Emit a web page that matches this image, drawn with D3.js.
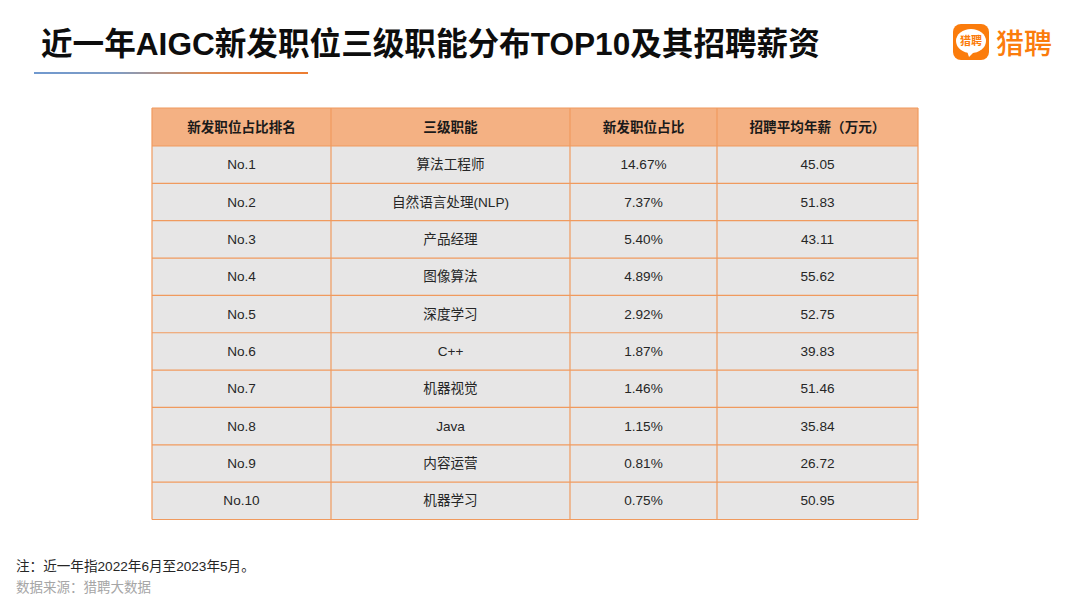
<!DOCTYPE html>
<html>
<head>
<meta charset="utf-8">
<script src="https://cdnjs.cloudflare.com/ajax/libs/d3/7.8.5/d3.min.js"></script>
<style>
  html, body { margin: 0; padding: 0; background: #fff; }
  svg { display: block; font-family: "Liberation Sans", "Noto Sans CJK SC", sans-serif; }
</style>
</head>
<body>
<div id="chart"></div>
<script>
const headers = ['新发职位占比排名', '三级职能', '新发职位占比', '招聘平均年薪（万元）'];
const ranks = ['No.1', 'No.2', 'No.3', 'No.4', 'No.5', 'No.6', 'No.7', 'No.8', 'No.9', 'No.10'];
const functions = ['算法工程师', '自然语言处理(NLP)', '产品经理', '图像算法', '深度学习', 'C++', '机器视觉', 'Java', '内容运营', '机器学习'];
const shares = ['14.67%', '7.37%', '5.40%', '4.89%', '2.92%', '1.87%', '1.46%', '1.15%', '0.81%', '0.75%'];
const salaries = ['45.05', '51.83', '43.11', '55.62', '52.75', '39.83', '51.46', '35.84', '26.72', '50.95'];

const width = 1080;
const height = 608;

const svg = d3.select('#chart')
  .append('svg')
  .attr('width', width)
  .attr('height', height);

// title
svg.append('text')
  .attr('x', 41)
  .attr('y', 55)
  .attr('font-size', 31.6)
  .attr('font-weight', 700)
  .attr('fill', '#0d0d0d')
  .text('近一年AIGC新发职位三级职能分布TOP10及其招聘薪资');

// gradient rule under the title
const grad = svg.append('defs').append('linearGradient').attr('id', 'rule');
grad.append('stop').attr('offset', '0%').attr('stop-color', '#7099cf');
grad.append('stop').attr('offset', '30%').attr('stop-color', '#7f9cc4');
grad.append('stop').attr('offset', '62%').attr('stop-color', '#e08a4e');
grad.append('stop').attr('offset', '100%').attr('stop-color', '#ed7d31');
svg.append('rect')
  .attr('x', 34)
  .attr('y', 72)
  .attr('width', 274)
  .attr('height', 2)
  .attr('fill', 'url(#rule)');

// logo
const logo = svg.append('g').attr('transform', 'translate(953,24)');
logo.append('rect')
  .attr('width', 36)
  .attr('height', 36)
  .attr('rx', 8)
  .attr('fill', '#fb7c0c');
logo.append('ellipse')
  .attr('cx', 18)
  .attr('cy', 17)
  .attr('rx', 15)
  .attr('ry', 12)
  .attr('fill', '#fff');
logo.append('path')
  .attr('d', 'M14 27 L21 28 L16 33 Z')
  .attr('fill', '#fff');
logo.append('text')
  .attr('x', 18)
  .attr('y', 21)
  .attr('text-anchor', 'middle')
  .attr('font-size', 11)
  .attr('font-weight', 700)
  .attr('fill', '#fb7c0c')
  .text('猎聘');
svg.append('text')
  .attr('x', 996)
  .attr('y', 54)
  .attr('font-size', 28)
  .attr('font-weight', 500)
  .attr('fill', '#fb7c0c')
  .text('猎聘');

// table
const colEdges = [152, 331, 570, 717, 918];
const tableTop = 108;
const tableBottom = 519.5;
const headerH = 38;

const y = d3.scaleBand()
  .domain(d3.range(ranks.length))
  .range([tableTop + headerH, tableBottom]);

const columns = [ranks, functions, shares, salaries];

svg.append('rect')
  .attr('x', colEdges[0])
  .attr('y', tableTop)
  .attr('width', colEdges[4] - colEdges[0])
  .attr('height', headerH)
  .attr('fill', '#f4b183');

svg.selectAll('.row')
  .data(ranks)
  .enter()
  .append('rect')
  .attr('class', 'row')
  .attr('x', colEdges[0])
  .attr('y', (d, i) => y(i))
  .attr('width', colEdges[4] - colEdges[0])
  .attr('height', y.bandwidth())
  .attr('fill', '#e7e6e6');

// grid lines
const lineColor = '#f09a5e';
svg.selectAll('.hline')
  .data([tableTop, tableTop + headerH].concat(ranks.map((d, i) => y(i) + y.bandwidth())))
  .enter()
  .append('line')
  .attr('class', 'hline')
  .attr('x1', colEdges[0])
  .attr('x2', colEdges[4])
  .attr('y1', d => d)
  .attr('y2', d => d)
  .attr('stroke', lineColor)
  .attr('stroke-width', 1.2);

svg.selectAll('.vline')
  .data(colEdges)
  .enter()
  .append('line')
  .attr('class', 'vline')
  .attr('x1', d => d)
  .attr('x2', d => d)
  .attr('y1', tableTop)
  .attr('y2', tableBottom)
  .attr('stroke', lineColor)
  .attr('stroke-width', 1.2);

// header text
svg.selectAll('.head')
  .data(headers)
  .enter()
  .append('text')
  .attr('class', 'head')
  .attr('x', (d, i) => (colEdges[i] + colEdges[i + 1]) / 2)
  .attr('y', tableTop + headerH / 2 + 5)
  .attr('text-anchor', 'middle')
  .attr('font-size', 13.6)
  .attr('font-weight', 700)
  .attr('fill', '#1a1a1a')
  .text(d => d);

// body text
columns.forEach((col, c) => {
  svg.selectAll('.cell' + c)
    .data(col)
    .enter()
    .append('text')
    .attr('class', 'cell' + c)
    .attr('x', (colEdges[c] + colEdges[c + 1]) / 2)
    .attr('y', (d, i) => y(i) + y.bandwidth() / 2 + 4.5)
    .attr('text-anchor', 'middle')
    .attr('font-size', 13.6)
    .attr('fill', '#262626')
    .text(d => d);
});

// footnotes
svg.append('text')
  .attr('x', 16)
  .attr('y', 571)
  .attr('font-size', 13.6)
  .attr('fill', '#262626')
  .text('注：近一年指2022年6月至2023年5月。');
svg.append('text')
  .attr('x', 16)
  .attr('y', 592)
  .attr('font-size', 13.5)
  .attr('fill', '#a6a6a6')
  .text('数据来源：猎聘大数据');
</script>
</body>
</html>
